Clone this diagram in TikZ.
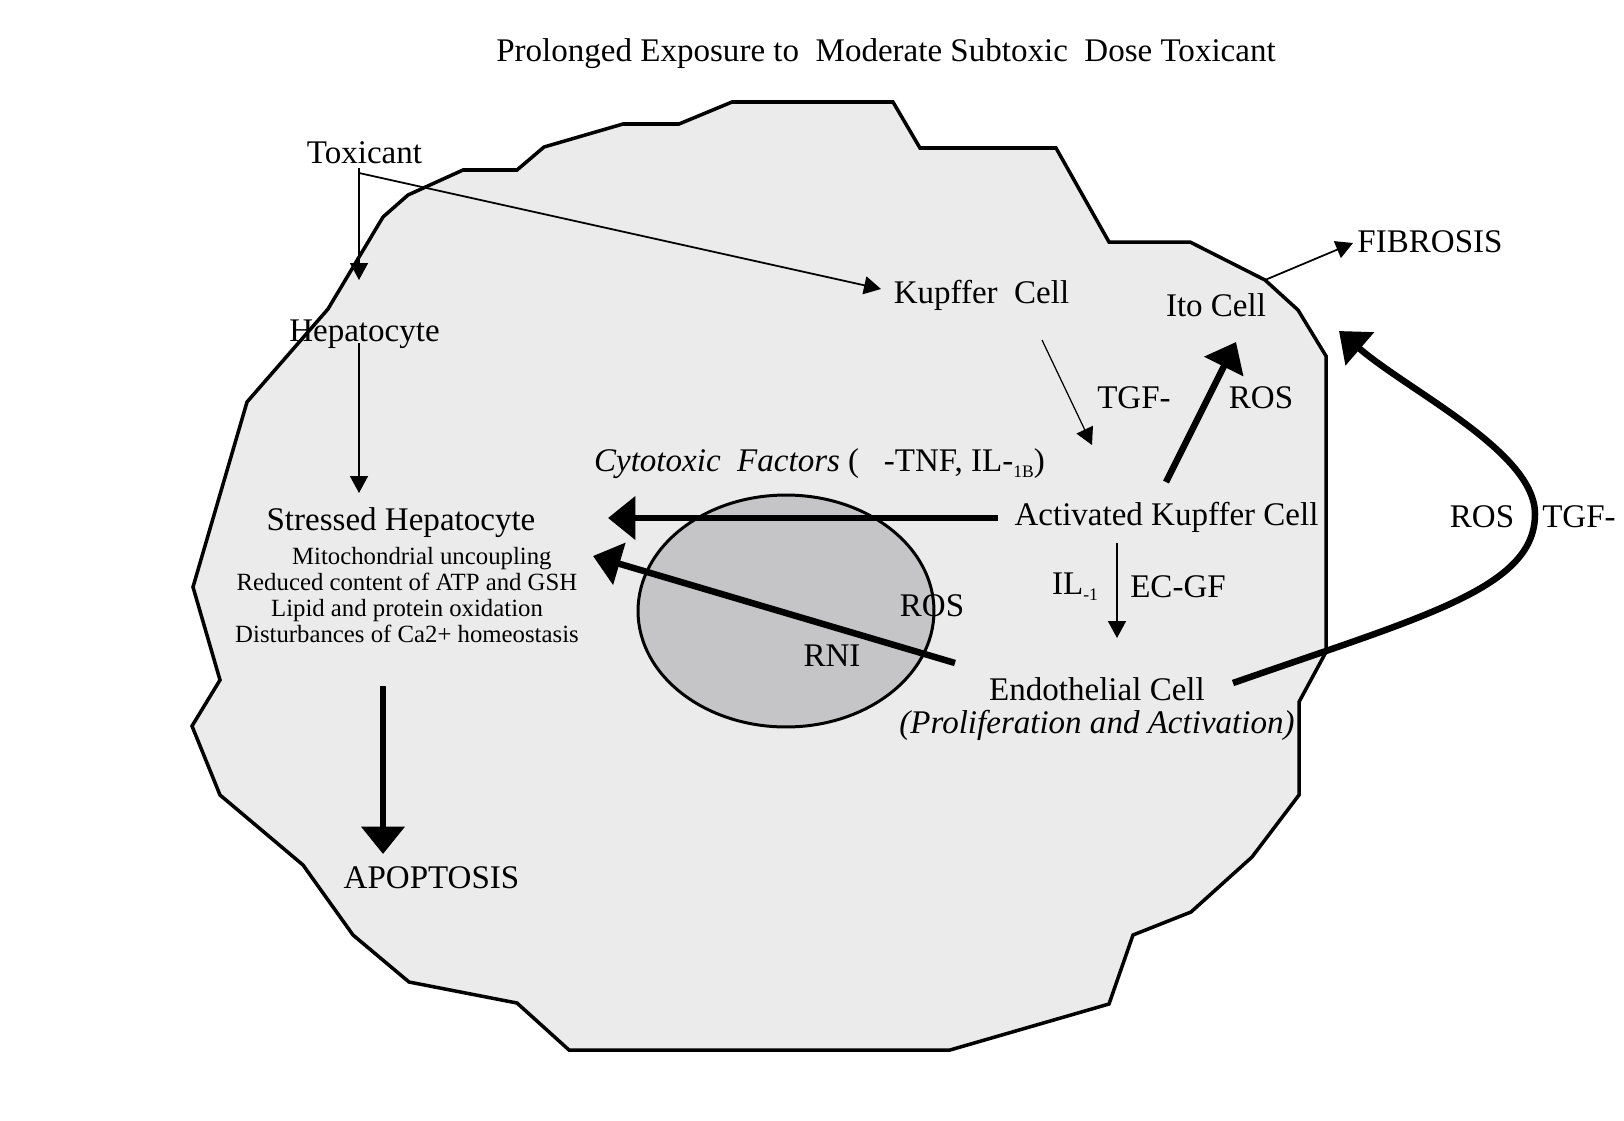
\documentclass[tikz,border=0pt]{standalone}
\usepackage{fontspec}
\setmainfont{Liberation Serif}
\usetikzlibrary{arrows.meta}

\definecolor{cellfill}{HTML}{EBEBEC}
\definecolor{nucfill}{HTML}{C5C5C7}
\newcommand\lowsub[1]{\raisebox{-0.4ex}{\fontsize{10}{10}\selectfont #1}}

\tikzset{
  lbl/.style={font=\fontsize{18.8}{22}\selectfont, inner sep=2pt},
  small/.style={font=\fontsize{14.1}{14.8}\selectfont, align=center, inner sep=0pt},
  thinarr/.style={line width=1pt, -{Triangle[length=0.34cm,width=0.36cm]}},
  fatarr/.style={line width=0.13cm, -{Triangle[length=0.55cm,width=0.85cm]}},
}

\begin{document}
\begin{tikzpicture}[x=0.02cm,y=-0.02cm]
\useasboundingbox (0,0) rectangle (1624,1120);

\draw[fill=cellfill, line width=2pt] (732,102) -- (893,102) -- (920,148) -- (1056,148)
  -- (1109,242) -- (1190,242) -- (1265,280) coordinate (itocorner) -- (1298,310) -- (1326,356)
  -- (1326,652) -- (1299,702) -- (1299,795) -- (1252,857) -- (1191,912) -- (1133,935)
  -- (1109,1004) -- (950,1050) -- (569,1050) -- (517,1003) -- (409,982) -- (353,935)
  -- (303,865) -- (220,795) -- (192,726) -- (220,680) -- (193,587) -- (247,402)
  -- (328,309) -- (383,217) -- (408,195) -- (463,170) -- (517,170) -- (544,147)
  -- (623,124) -- (679,124) -- cycle;
\draw[fill=nucfill, line width=1.7pt] (786,611) ellipse [x radius=2.96cm, y radius=2.32cm];

\node[lbl] (title) at (886,54) {Prolonged Exposure to\ \ Moderate Subtoxic\ \ Dose Toxicant};
\node[lbl] (toxicant) at (364.5,153) {Toxicant};
\node[lbl] (hepato) at (364.5,334) {Hepatocyte};
\node[lbl] (stressed) at (401,523) {Stressed Hepatocyte};
\node[small] (effects) at (407,595) {\hspace{1.2em}Mitochondrial uncoupling\\Reduced content of ATP and GSH\\Lipid and protein oxidation\hspace{1em}\\Disturbances of Ca2+ homeostasis};
\node[lbl] (apoptosis) at (431.5,878) {APOPTOSIS};
\node[lbl] (kupffer) at (981.5,295) {Kupffer\ \ Cell};
\node[lbl] (ito) at (1216,305) {Ito Cell};
\node[lbl] (fibrosis) at (1430,242) {FIBROSIS};
\node[lbl] (tgfa) at (1134,398) {TGF-};
\node[lbl] (rosa) at (1261,398) {ROS};
\node[lbl] (cytotox) at (819.5,464) {\textit{Cytotoxic\ \ Factors} (\hspace{0.75em}-TNF, IL-\lowsub{1B})};
\node[lbl] (actk) at (1166.5,517) {Activated Kupffer Cell};
\node[lbl] (il) at (1075,587) {IL\lowsub{-1}};
\node[lbl] (ecgf) at (1178,587) {EC-GF};
\node[lbl] (endo) at (1097,689) {Endothelial Cell};
\node[lbl] (prolif) at (1097,725) {\textit{(Proliferation and Activation)}};
\node[lbl] (rosn) at (932,606) {ROS};
\node[lbl] (rni) at (832,656) {RNI};
\node[lbl] (rosb) at (1482,517) {ROS};
\node[lbl] (tgfb) at (1579,517) {TGF-};

\coordinate (split) at (359,173);
\coordinate (hepin) at (359,280);
\coordinate (kupin) at (881,289);
\coordinate (hepout) at (359,343);
\coordinate (stressin) at (359,493);
\coordinate (apostart) at (383,686);
\coordinate (apoend) at (383,854);
\coordinate (kupout) at (1042,340);
\coordinate (actin) at (1092,445);
\coordinate (itoout) at (1166,482);
\coordinate (itoin) at (1236,342);
\coordinate (fibin) at (1353,243);
\coordinate (actout) at (998,518);
\coordinate (leftin) at (608,518);
\coordinate (endout) at (955,663);
\coordinate (slantin) at (593,556);
\coordinate (ilstart) at (1117,543);
\coordinate (ilend) at (1117,638);
\coordinate (curvestart) at (1233,683);
\coordinate (curveright) at (1535,514);
\coordinate (curveend) at (1339,331);

\draw[line width=1pt] (toxicant.south -| split) -- (split);
\draw[thinarr] (split) -- (hepin);
\draw[thinarr] (split) -- (kupin);
\draw[thinarr] (hepout) -- (stressin);
\draw[fatarr] (apostart) -- (apoend);
\draw[line width=0.7pt, -{Triangle[length=0.34cm,width=0.36cm]}] (kupout) -- (actin);
\draw[fatarr] (itoout) -- (itoin);
\draw[thinarr] (itocorner) -- (fibin);
\draw[fatarr] (actout) -- (leftin);
\draw[fatarr] (endout) -- (slantin);
\draw[thinarr] (ilstart) -- (ilend);
\draw[fatarr] (curvestart) .. controls (1425,616) and (1535,588) .. (curveright)
  .. controls (1535,452) and (1410,392) .. (curveend);
\end{tikzpicture}
\end{document}
